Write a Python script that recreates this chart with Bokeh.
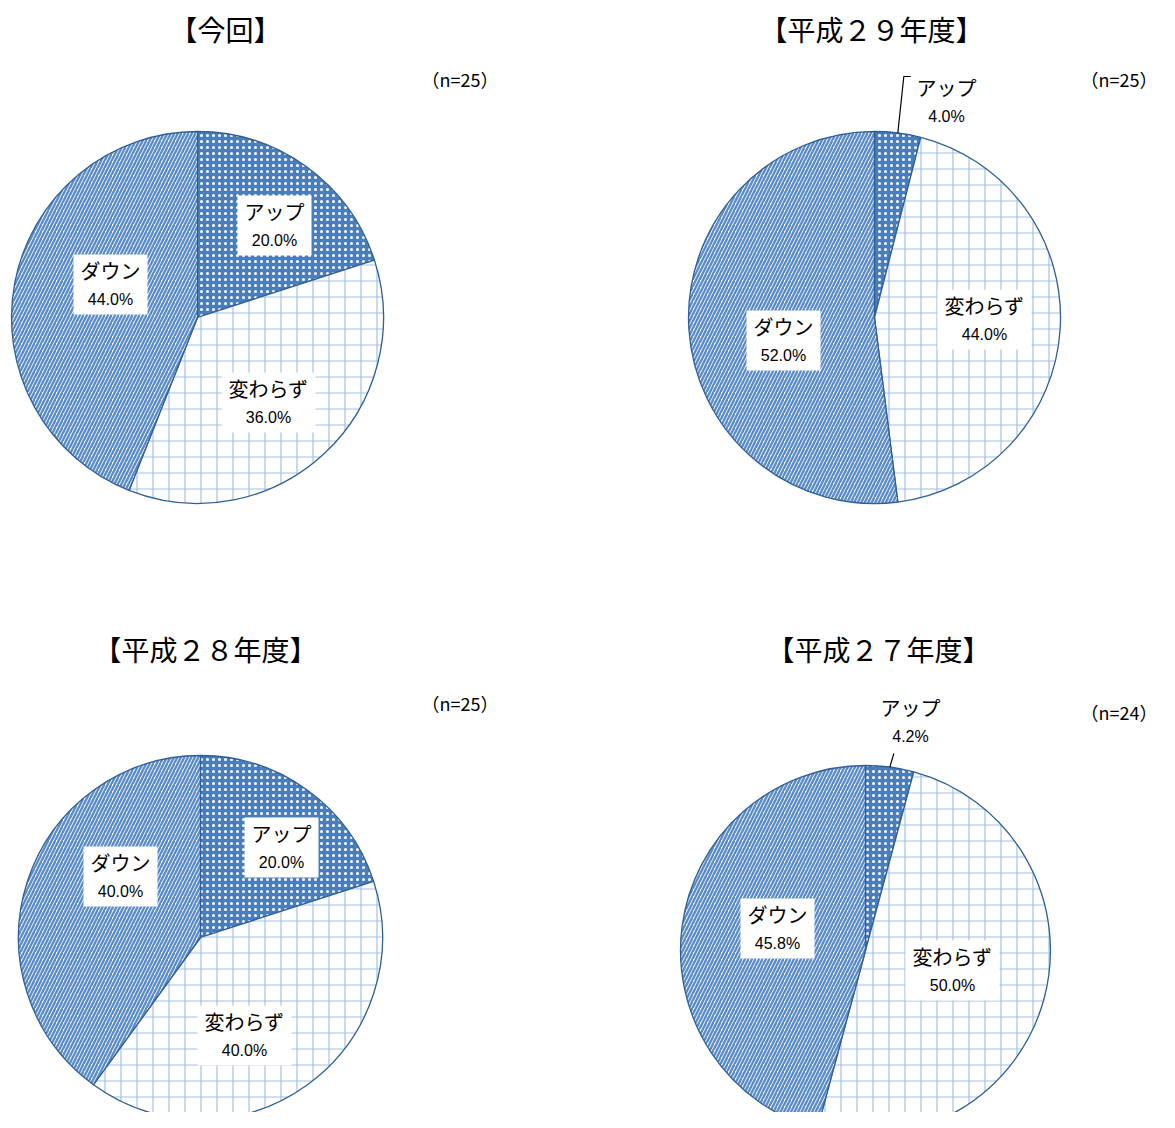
import math
from bokeh.plotting import figure
from bokeh.models import Range1d
from bokeh.core.properties import value
from bokeh.embed import file_html
from bokeh.resources import INLINE

# ---- data ----
categories = ["アップ", "変わらず", "ダウン"]
titles = ["【今回】", "【平成２９年度】", "【平成２８年度】", "【平成２７年度】"]
n_labels = ["（n=25）", "（n=25）", "（n=25）", "（n=24）"]
vals_now = [20.0, 36.0, 44.0]
vals_h29 = [4.0, 44.0, 52.0]
vals_h28 = [20.0, 40.0, 40.0]
vals_h27 = [4.2, 50.0, 45.8]
series = [vals_now, vals_h29, vals_h28, vals_h27]

# ---- layout (pixel coords from page top-left) ----
W, H = 1159, 1112
centers = [(197, 317), (874, 317), (200, 937), (865, 950)]
radii = [186, 186, 182, 185]
title_pos = [(225, 28), (871, 28), (205, 648), (878, 648)]
n_pos = [(462, 78), (1139, 78), (462, 702), (1132, 711)]
# label centre offsets (dx, dy) relative to pie centre, per category
label_off = [
    [(77, -92), (71, 85), (-87, -33)],
    [(72, -216), (110, 2), (-91, 23)],
    [(81, -90), (44, 98), (-80, -61)],
    [(45, -229), (87, 20), (-88, -22)],
]
outside = [[False, False, False], [True, False, False], [False, False, False], [True, False, False]]

BLUE = "#4a7ebb"
EDGE = "#2f5f98"
styles = [
    dict(fill_color=BLUE, hatch_pattern="dot", hatch_color="white", hatch_scale=6, hatch_weight=2.0),
    dict(fill_color="white", hatch_pattern="cross", hatch_color="#a4c0e6", hatch_scale=16, hatch_weight=1.2),
    dict(fill_color="white", hatch_pattern="right_diagonal_line", hatch_color="#5b8cc9", hatch_scale=7, hatch_weight=2.4),
]

p = figure(width=W, height=H, output_backend="svg", toolbar_location=None,
           x_range=Range1d(0, W), y_range=Range1d(-H, 0),
           min_border=0)
p.axis.visible = False
p.grid.visible = False
p.outline_line_color = None
p.background_fill_color = "white"

JP = value("Noto Sans CJK JP")
NUM = value("Liberation Sans")

for k, vals in enumerate(series):
    cx, cy = centers[k]
    R = radii[k]
    cum = 0.0
    for i, v in enumerate(vals):
        a0 = 90 - cum * 3.6
        cum += v
        a1 = 90 - cum * 3.6
        p.wedge(x=[cx], y=[-cy], radius=R, start_angle=[a0], end_angle=[a1],
                start_angle_units="deg", end_angle_units="deg", direction="clock",
                line_color=EDGE, line_width=1.3, **styles[i])
    # labels
    cum = 0.0
    for i, v in enumerate(vals):
        mid = 90 - (cum + v / 2) * 3.6
        cum += v
        dx, dy = label_off[k][i]
        lx, ly = cx + dx, cy + dy
        name = categories[i]
        pct = f"{v:.1f}%"
        if outside[k][i]:
            ex = cx + R * math.cos(math.radians(mid))
            ey = cy - R * math.sin(math.radians(mid))
            if k == 1:
                xs = [ex, ex + 6, ex + 13]
                ys = [ey, ly - 25, ly - 25]
            else:
                xs = [ex, ex + 4]
                ys = [ey, ly + 32]
            p.line(x=xs, y=[-y for y in ys], line_color="black", line_width=1.2)
        else:
            bw = len(name) * 20 + 14
            p.rect(x=[lx], y=[-ly], width=bw, height=60, fill_color="white",
                   line_color=None)
        p.text(x=[lx], y=[-(ly - 14)], text=[name], text_font=JP, text_font_size="20px",
               text_align="center", text_baseline="middle", text_color="black")
        p.text(x=[lx], y=[-(ly + 15)], text=[pct], text_font=NUM, text_font_size="16px",
               text_align="center", text_baseline="middle", text_color="black")
    # title and n
    tx, ty = title_pos[k]
    p.text(x=[tx], y=[-ty], text=[titles[k]], text_font=JP, text_font_size="28px",
           text_align="center", text_baseline="middle", text_color="black")
    nx, ny = n_pos[k]
    p.text(x=[min(nx + 36, W - 2)], y=[-ny], text=[n_labels[k]], text_font=JP,
           text_font_size="18px", text_align="right", text_baseline="middle",
           text_color="black")

open("out.html", "w").write(file_html(p, INLINE))
